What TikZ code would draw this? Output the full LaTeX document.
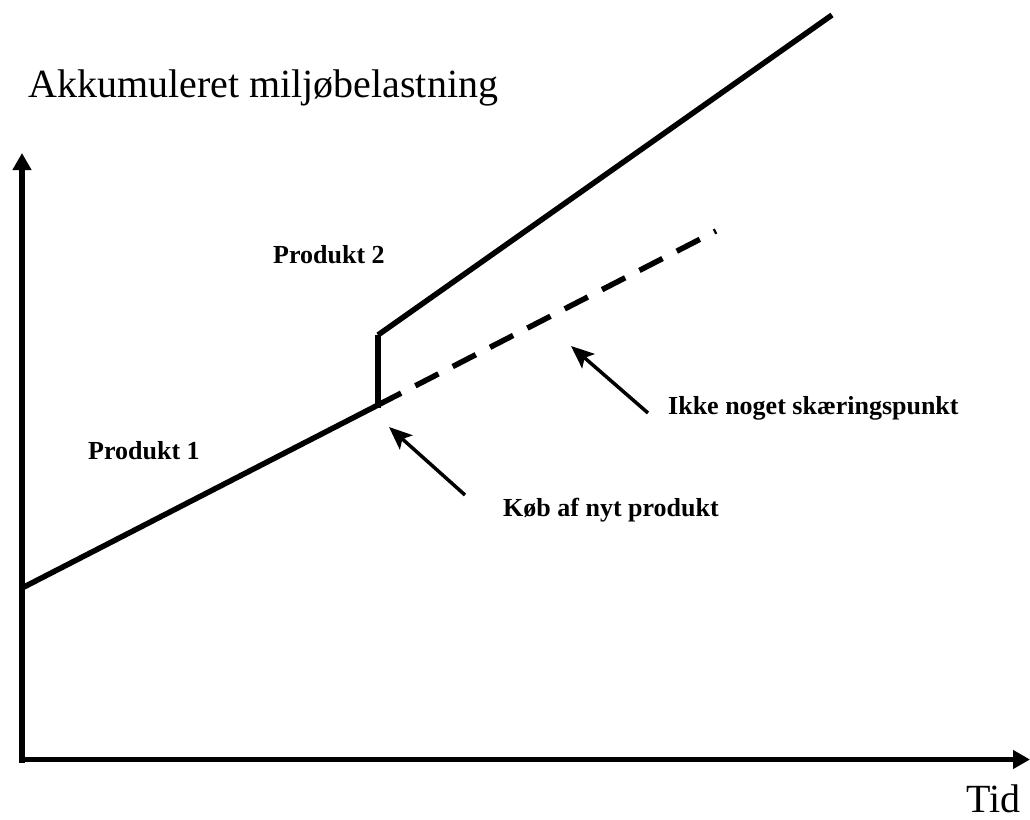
\documentclass[tikz,border=0pt]{standalone}
\usepackage{fontspec}
\setmainfont{Liberation Serif}
\usetikzlibrary{arrows.meta}
\tikzset{
  axisline/.style={line width=5.5pt,-{Triangle[width=18pt,length=17pt]}},
  curve/.style={line width=5.5pt},
  dashcurve/.style={line width=5.5pt,dash pattern=on 26pt off 16pt},
  callout/.style={line width=3.5pt,-{Stealth[width=19pt,length=23pt,inset=5pt]}},
  biglabel/.style={font=\fontsize{40}{46}\selectfont,inner sep=0pt,anchor=base west},
  smalllabel/.style={font=\fontsize{26}{30}\selectfont\bfseries,inner sep=0pt,anchor=base west}
}
\begin{document}
\begin{tikzpicture}[x=1pt,y=-1pt]
\useasboundingbox (0,0) rectangle (1030,819);
% axes
\coordinate (ytop) at (22,153);
\coordinate (xright) at (1030,759.5);
\coordinate (Ob) at (22,762.5);
\coordinate (Ol) at (19,759.5);
\draw[axisline] (Ob) -- (ytop);
\draw[axisline] (Ol) -- (xright);
% curves
\coordinate (p0) at (22,588);
\coordinate (j1) at (378,405);
\coordinate (j2) at (378,335);
\coordinate (e2) at (832,15);
\coordinate (e3) at (716,231);
\draw[curve] (p0) -- (j1);
\draw[line width=6pt] (378,408) -- (j2);
\draw[curve] (j2) -- (e2);
\draw[dashcurve] (j1) -- (e3);
% callout arrows
\coordinate (t1) at (465,495);
\coordinate (h1) at (389,427);
\coordinate (t2) at (648,413);
\coordinate (h2) at (571,346);
\draw[callout] (t1) -- (h1);
\draw[callout] (t2) -- (h2);
% labels
\node[biglabel] (ylab) at (28,97) {Akkumuleret miljøbelastning};
\node[biglabel] (xlab) at (966,812) {Tid};
\node[smalllabel] (p1) at (88,459) {Produkt 1};
\node[smalllabel] (p2) at (273,263) {Produkt 2};
\node[smalllabel] (ikke) at (668,414) {Ikke noget skæringspunkt};
\node[smalllabel] (kob) at (503,516) {Køb af nyt produkt};
\end{tikzpicture}
\end{document}
